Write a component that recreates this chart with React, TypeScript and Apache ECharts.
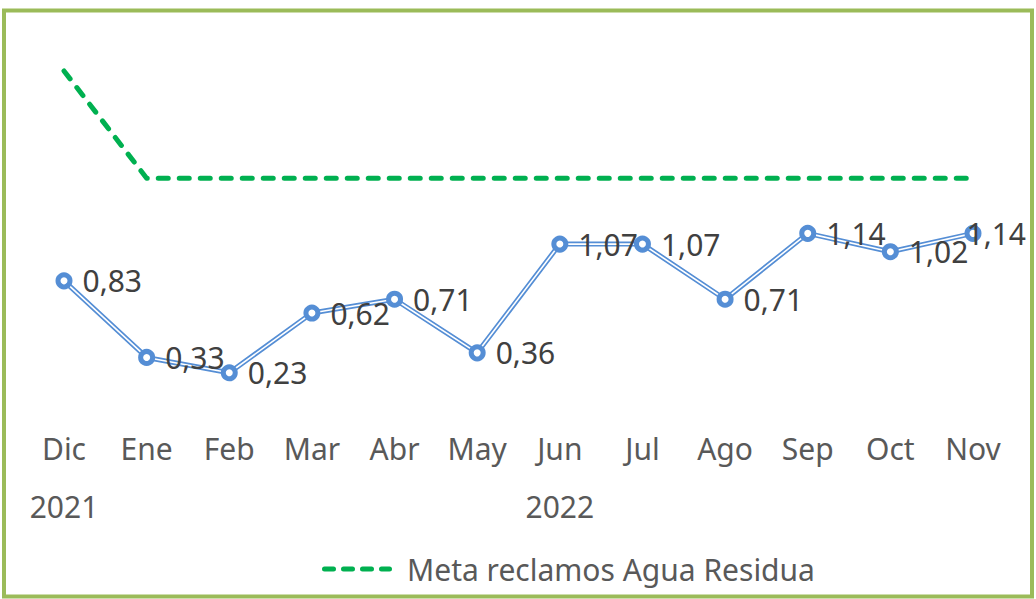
import React, { useEffect, useRef } from "react";
import * as echarts from "echarts";

const months = ["Dic", "Ene", "Feb", "Mar", "Abr", "May", "Jun", "Jul", "Ago", "Sep", "Oct", "Nov"];
const yearLabels = ["2021", "", "", "", "", "", "2022", "", "", "", "", ""];
const reclamos = [0.83, 0.33, 0.23, 0.62, 0.71, 0.36, 1.07, 1.07, 0.71, 1.14, 1.02, 1.14];
const meta = [2.2, 1.5, 1.5, 1.5, 1.5, 1.5, 1.5, 1.5, 1.5, 1.5, 1.5, 1.5];
const metaName = "Meta reclamos Agua Residua";
const reclamosName = "Reclamos Agua Residual";

export default function App() {
  const ref = useRef<HTMLDivElement>(null);
  useEffect(() => {
    const chart = echarts.init(ref.current!, null, { renderer: "svg" });
    const font = "'Noto Sans', sans-serif";
    const blue = "#558ED5";
    const green = "#00B050";
    const last = reclamos.length - 1;
    const reclamosData = reclamos.map((v, i) =>
      i === last ? { value: v, label: { offset: [-25, 0] } } : v
    );
    chart.setOption({
      animation: false,
      backgroundColor: "#ffffff",
      graphic: [
        {
          type: "rect",
          shape: { x: 4, y: 10.5, width: 1028, height: 586 },
          style: { fill: "none", stroke: "#9BBB59", lineWidth: 4 },
          silent: true,
          z: 100,
        },
      ],
      grid: { left: 64, right: 63, top: 25, bottom: 191 },
      legend: {
        data: [metaName],
        left: 317,
        top: 549,
        itemWidth: 70,
        itemHeight: 5,
        icon: "path://M2.5,0h9a2.5,2.5,0,0,1,0,5h-9a2.5,2.5,0,0,1,0-5zM21.5,0h9a2.5,2.5,0,0,1,0,5h-9a2.5,2.5,0,0,1,0-5zM40.5,0h9a2.5,2.5,0,0,1,0,5h-9a2.5,2.5,0,0,1,0-5zM59.5,0h8a2.5,2.5,0,0,1,0,5h-8a2.5,2.5,0,0,1,0-5z",
        itemStyle: { color: green },
        textStyle: { fontFamily: font, fontSize: 30, color: "#595959", padding: [0, 0, 0, 10] },
      },
      xAxis: [
        {
          type: "category",
          data: months,
          boundaryGap: false,
          axisLine: { show: false },
          axisTick: { show: false },
          axisLabel: { interval: 0, margin: 25, fontFamily: font, fontSize: 30, color: "#595959" },
        },
        {
          type: "category",
          data: yearLabels,
          boundaryGap: false,
          position: "bottom",
          offset: 58,
          axisLine: { show: false },
          axisTick: { show: false },
          axisLabel: { interval: 0, margin: 25, fontFamily: font, fontSize: 30, color: "#595959" },
        },
      ],
      yAxis: {
        type: "value",
        min: 0,
        max: 2.5,
        show: false,
        splitLine: { show: false },
      },
      series: [
        {
          name: metaName,
          type: "line",
          data: meta,
          symbol: "none",
          z: 2,
          itemStyle: { color: green },
          lineStyle: { color: green, width: 5, type: [10, 11], cap: "round", join: "round" },
        },
        {
          name: reclamosName + " borde",
          type: "line",
          data: reclamos,
          symbol: "none",
          z: 3,
          lineStyle: { color: blue, width: 5 },
        },
        {
          name: reclamosName,
          type: "line",
          data: reclamosData,
          z: 4,
          symbol: "circle",
          symbolSize: 12,
          itemStyle: { color: "#ffffff", borderColor: blue, borderWidth: 5 },
          lineStyle: { color: "#ffffff", width: 1.6 },
          label: {
            show: true,
            position: "right",
            distance: 10,
            fontFamily: font,
            fontSize: 30,
            color: "#404040",
            formatter: (p: any) => Number(p.value).toFixed(2).replace(".", ","),
          },
        },
      ],
    });
    return () => chart.dispose();
  }, []);
  return <div ref={ref} style={{ position: "absolute", left: 0, top: 0, width: 1036, height: 599 }} />;
}
